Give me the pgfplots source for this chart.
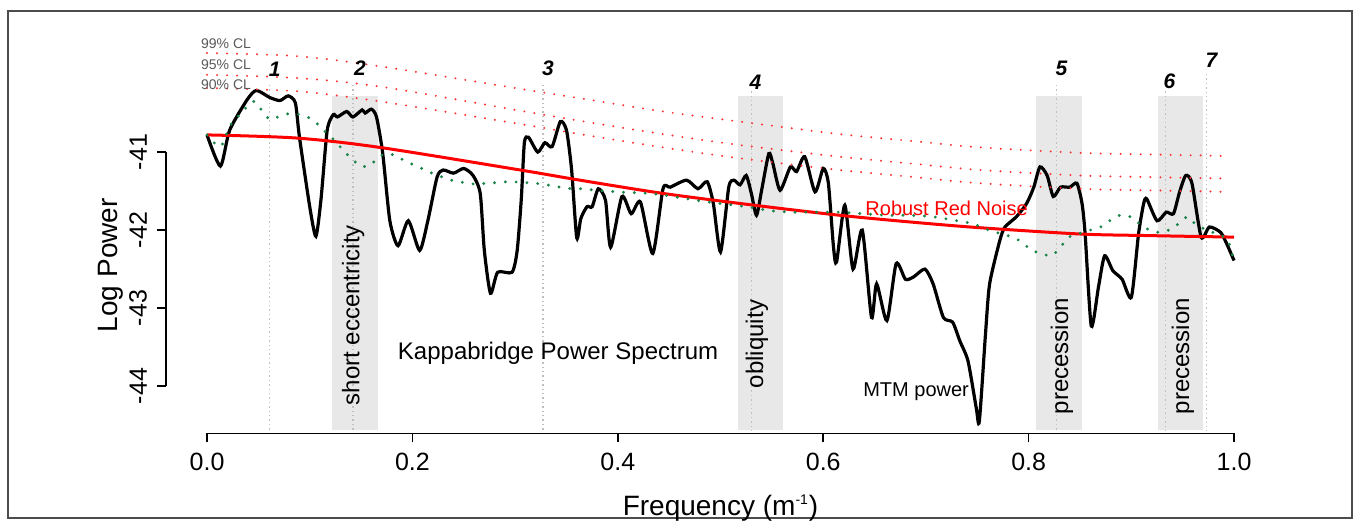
\documentclass[border=0pt]{standalone}
\usepackage{fontspec}
\setmainfont{Liberation Sans}
\usepackage{pgfplots}
\pgfplotsset{compat=1.18}

\definecolor{bandgray}{HTML}{E8E8E8}
\definecolor{peakgray}{HTML}{BEBEBE}
\definecolor{mtmgreen}{HTML}{1A8546}
\definecolor{clred}{HTML}{FF3030}

\begin{document}
\begin{tikzpicture}
\begin{axis}[
    scale only axis,
    width=554.5pt, height=201.5pt,
    xmin=-0.04, xmax=1.04,
    ymin=-44.606, ymax=-39.44,
    axis x line*=bottom, axis y line*=left,
    axis line style={draw=none},
    xtick={0,0.2,0.4,0.6,0.8,1},
    xticklabels={0.0,0.2,0.4,0.6,0.8,1.0},
    ytick={-44,-43,-42,-41},
    yticklabels={-44,-43,-42,-41},
    tick align=outside,
    major tick length=4.5pt,
    tick style={black, line width=0.8pt},
    xticklabel style={font=\fontsize{12.5}{14}\selectfont, yshift=-2pt},
    yticklabel style={font=\fontsize{12.5}{14}\selectfont, xshift=-1.5pt, rotate=90, anchor=south},
    clip=false,
]
% figure frame and page extent
\path (axis cs:-0.2016,-39.051) rectangle (axis cs:1.1207,-45.718);
\draw[gray!60!black, line width=0.7pt] (axis cs:-0.1938,-39.192) rectangle (axis cs:1.1149,-45.692);

% orbital bands
\addplot[fill=bandgray, draw=none] coordinates {(0.122,-44.56) (0.122,-40.28) (0.166,-40.28) (0.166,-44.56)} -- cycle;
\addplot[fill=bandgray, draw=none] coordinates {(0.517,-44.56) (0.517,-40.28) (0.561,-40.28) (0.561,-44.56)} -- cycle;
\addplot[fill=bandgray, draw=none] coordinates {(0.807,-44.56) (0.807,-40.28) (0.852,-40.28) (0.852,-44.56)} -- cycle;
\addplot[fill=bandgray, draw=none] coordinates {(0.926,-44.56) (0.926,-40.28) (0.970,-40.28) (0.970,-44.56)} -- cycle;

% peak markers
\addplot[peakgray, line width=0.7pt, dash pattern=on 0.7pt off 1.5pt] coordinates {(0.061,-40.14) (0.061,-44.58)};
\addplot[peakgray, line width=0.7pt, dash pattern=on 0.7pt off 1.5pt] coordinates {(0.142,-40.14) (0.142,-44.58)};
\addplot[peakgray, line width=0.7pt, dash pattern=on 0.7pt off 1.5pt] coordinates {(0.327,-40.14) (0.327,-44.58)};
\addplot[peakgray, line width=0.7pt, dash pattern=on 0.7pt off 1.5pt] coordinates {(0.530,-40.22) (0.530,-44.58)};
\addplot[peakgray, line width=0.7pt, dash pattern=on 0.7pt off 1.5pt] coordinates {(0.827,-40.14) (0.827,-44.58)};
\addplot[peakgray, line width=0.7pt, dash pattern=on 0.7pt off 1.5pt] coordinates {(0.933,-40.22) (0.933,-44.58)};
\addplot[peakgray, line width=0.7pt, dash pattern=on 0.7pt off 1.5pt] coordinates {(0.973,-40.00) (0.973,-44.58)};

% MTM power
\addplot[black, line width=1.6pt, smooth, tension=0.4] coordinates {
(0.000,-40.78) (0.013,-41.18) (0.022,-40.72) (0.039,-40.33) (0.048,-40.21)
(0.061,-40.30) (0.071,-40.34) (0.079,-40.28) (0.086,-40.37) (0.090,-40.81)
(0.100,-41.70) (0.106,-42.08) (0.111,-41.60) (0.117,-40.72) (0.123,-40.52)
(0.127,-40.55) (0.136,-40.48) (0.142,-40.55) (0.151,-40.46) (0.154,-40.50)
(0.160,-40.45) (0.165,-40.55) (0.171,-41.01) (0.178,-41.88) (0.186,-42.20)
(0.196,-41.88) (0.207,-42.26) (0.215,-41.88) (0.224,-41.32) (0.230,-41.23)
(0.240,-41.27) (0.250,-41.21) (0.259,-41.30) (0.266,-41.53) (0.270,-42.26)
(0.276,-42.81) (0.283,-42.54) (0.297,-42.54) (0.302,-42.26) (0.306,-41.60)
(0.309,-40.88) (0.313,-40.81) (0.322,-41.00) (0.329,-40.88) (0.336,-40.93)
(0.344,-40.61) (0.350,-40.72) (0.355,-41.23) (0.360,-42.10) (0.364,-41.85)
(0.370,-41.70) (0.375,-41.70) (0.381,-41.47) (0.388,-41.62) (0.393,-42.22)
(0.404,-41.57) (0.413,-41.79) (0.422,-41.64) (0.434,-42.30) (0.444,-41.47)
(0.451,-41.45) (0.467,-41.36) (0.478,-41.47) (0.487,-41.38) (0.493,-41.66)
(0.500,-42.28) (0.508,-41.45) (0.513,-41.36) (0.519,-41.42) (0.525,-41.30)
(0.530,-41.53) (0.535,-41.81) (0.540,-41.49) (0.547,-41.02) (0.551,-41.15)
(0.558,-41.49) (0.568,-41.19) (0.574,-41.25) (0.582,-41.06) (0.592,-41.51)
(0.600,-41.21) (0.605,-41.40) (0.610,-42.22) (0.613,-42.41) (0.621,-41.68)
(0.629,-42.50) (0.638,-42.00) (0.647,-43.12) (0.652,-42.69) (0.662,-43.16)
(0.671,-42.43) (0.680,-42.63) (0.688,-42.60) (0.699,-42.50) (0.707,-42.69)
(0.717,-43.12) (0.726,-43.18) (0.733,-43.42) (0.741,-43.68) (0.749,-44.28)
(0.752,-44.45) (0.758,-43.33) (0.762,-42.69) (0.772,-42.13) (0.777,-41.96)
(0.788,-41.83) (0.798,-41.66) (0.805,-41.45) (0.811,-41.19) (0.818,-41.30)
(0.824,-41.57) (0.831,-41.45) (0.840,-41.45) (0.847,-41.40) (0.852,-41.66)
(0.855,-42.05) (0.861,-43.23) (0.868,-42.73) (0.874,-42.33) (0.882,-42.52)
(0.891,-42.63) (0.900,-42.86) (0.907,-42.05) (0.912,-41.66) (0.915,-41.60)
(0.925,-41.88) (0.934,-41.77) (0.941,-41.79) (0.947,-41.51) (0.953,-41.30)
(0.959,-41.40) (0.968,-42.09) (0.976,-41.96) (0.987,-42.03) (0.993,-42.18)
(1.000,-42.39)};

% robust red noise
\addplot[red, line width=1.5pt, smooth] coordinates {
(0.000,-40.78) (0.087,-40.82) (0.168,-40.94) (0.305,-41.23) (0.363,-41.36)
(0.444,-41.53) (0.532,-41.68) (0.616,-41.81) (0.688,-41.90) (0.753,-41.97)
(0.850,-42.05) (0.915,-42.07) (1.000,-42.09)};

% smoothed spectrum
\addplot[mtmgreen, line width=1.6pt, line cap=round, dash pattern=on 0pt off 5.4pt, smooth] coordinates {
(0.000,-40.78) (0.013,-40.93) (0.022,-40.67) (0.032,-40.52) (0.045,-40.35)
(0.053,-40.46) (0.061,-40.58) (0.069,-40.55) (0.079,-40.51) (0.091,-40.52)
(0.102,-40.58) (0.110,-40.67) (0.118,-40.78) (0.126,-40.87) (0.133,-40.99)
(0.141,-41.08) (0.149,-41.18) (0.159,-41.17) (0.167,-41.06) (0.177,-41.02)
(0.188,-41.08) (0.199,-41.15) (0.209,-41.21) (0.219,-41.27) (0.238,-41.36)
(0.250,-41.39) (0.261,-41.41) (0.272,-41.40) (0.284,-41.39) (0.295,-41.38)
(0.319,-41.40) (0.331,-41.42) (0.344,-41.45) (0.355,-41.47) (0.363,-41.47)
(0.399,-41.51) (0.431,-41.53) (0.454,-41.57) (0.477,-41.62) (0.500,-41.66)
(0.525,-41.70) (0.548,-41.75) (0.571,-41.77) (0.594,-41.77) (0.616,-41.77)
(0.639,-41.79) (0.662,-41.81) (0.684,-41.81) (0.707,-41.83) (0.730,-41.88)
(0.746,-41.92) (0.761,-42.00) (0.774,-42.05) (0.784,-42.09) (0.793,-42.15)
(0.803,-42.26) (0.813,-42.30) (0.822,-42.33) (0.831,-42.22) (0.838,-42.10)
(0.848,-42.05) (0.860,-42.00) (0.870,-41.96) (0.879,-41.88) (0.889,-41.81)
(0.899,-41.83) (0.908,-41.92) (0.918,-42.00) (0.928,-42.03) (0.938,-41.99)
(0.947,-41.91) (0.955,-41.83) (0.964,-41.94) (0.983,-42.05) (0.993,-42.11)
(0.997,-42.26) (1.000,-42.39)};

% confidence levels
\addplot[clred, line width=1.1pt, line cap=round, dash pattern=on 0pt off 5pt, smooth] coordinates {
(0.000,-39.73) (0.087,-39.77) (0.168,-39.90) (0.305,-40.19) (0.363,-40.31)
(0.444,-40.48) (0.519,-40.61) (0.616,-40.77) (0.688,-40.86) (0.753,-40.94)
(0.850,-41.01) (0.915,-41.03) (0.996,-41.05)};
\addplot[clred, line width=1.1pt, line cap=round, dash pattern=on 0pt off 5pt, smooth] coordinates {
(0.000,-40.01) (0.087,-40.05) (0.168,-40.16) (0.305,-40.47) (0.363,-40.60)
(0.444,-40.77) (0.519,-40.91) (0.616,-41.06) (0.688,-41.15) (0.753,-41.23)
(0.850,-41.30) (0.915,-41.32) (0.996,-41.34)};
\addplot[clred, line width=1.1pt, line cap=round, dash pattern=on 0pt off 5pt, smooth] coordinates {
(0.000,-40.18) (0.087,-40.22) (0.168,-40.35) (0.305,-40.64) (0.363,-40.77)
(0.444,-40.94) (0.519,-41.08) (0.616,-41.23) (0.688,-41.32) (0.753,-41.40)
(0.850,-41.47) (0.915,-41.49) (0.996,-41.51)};

% R-style axis lines
\draw[black, line width=0.8pt] (axis cs:0,-44.606) -- (axis cs:1,-44.606);
\draw[black, line width=0.8pt] (axis cs:-0.04,-44) -- (axis cs:-0.04,-41);

% labels
\node[font=\fontsize{14}{16}\selectfont] at (axis cs:0.5,-45.564) {Frequency (m\textsuperscript{\fontsize{7}{8}\selectfont -1})};
\node[font=\fontsize{14}{16}\selectfont, rotate=90] at (axis cs:-0.094,-42.45) {Log Power};

\node[font=\fontsize{7}{8}\selectfont, text=gray!70!black] at (axis cs:0.0185,-39.606) {99\% CL};
\node[font=\fontsize{7}{8}\selectfont, text=gray!70!black] at (axis cs:0.0185,-39.876) {95\% CL};
\node[font=\fontsize{7}{8}\selectfont, text=gray!70!black] at (axis cs:0.0185,-40.141) {90\% CL};

\node[font=\bfseries\itshape\fontsize{10.5}{12}\selectfont] at (axis cs:0.066,-39.94) {1};
\node[font=\bfseries\itshape\fontsize{10.5}{12}\selectfont] at (axis cs:0.149,-39.93) {2};
\node[font=\bfseries\itshape\fontsize{10.5}{12}\selectfont] at (axis cs:0.332,-39.93) {3};
\node[font=\bfseries\itshape\fontsize{10.5}{12}\selectfont] at (axis cs:0.534,-40.10) {4};
\node[font=\bfseries\itshape\fontsize{10.5}{12}\selectfont] at (axis cs:0.832,-39.93) {5};
\node[font=\bfseries\itshape\fontsize{10.5}{12}\selectfont] at (axis cs:0.937,-40.09) {6};
\node[font=\bfseries\itshape\fontsize{10.5}{12}\selectfont] at (axis cs:0.978,-39.82) {7};

\node[font=\fontsize{12}{14}\selectfont, rotate=90] at (axis cs:0.1422,-43.09) {short eccentricity};
\node[font=\fontsize{12}{14}\selectfont, rotate=90] at (axis cs:0.5355,-43.46) {obliquity};
\node[font=\fontsize{12}{14}\selectfont, rotate=90] at (axis cs:0.8325,-43.615) {precession};
\node[font=\fontsize{12}{14}\selectfont, rotate=90] at (axis cs:0.9503,-43.615) {precession};
\node[font=\fontsize{12}{14}\selectfont] at (axis cs:0.3418,-43.577) {Kappabridge Power Spectrum};
\node[font=\fontsize{10}{12}\selectfont] at (axis cs:0.6904,-44.077) {MTM power};
\node[font=\fontsize{10}{12}\selectfont, text=red, anchor=west, inner sep=0pt] at (axis cs:0.6407,-41.718) {Robust Red Noise};
\end{axis}
\end{tikzpicture}
\end{document}
